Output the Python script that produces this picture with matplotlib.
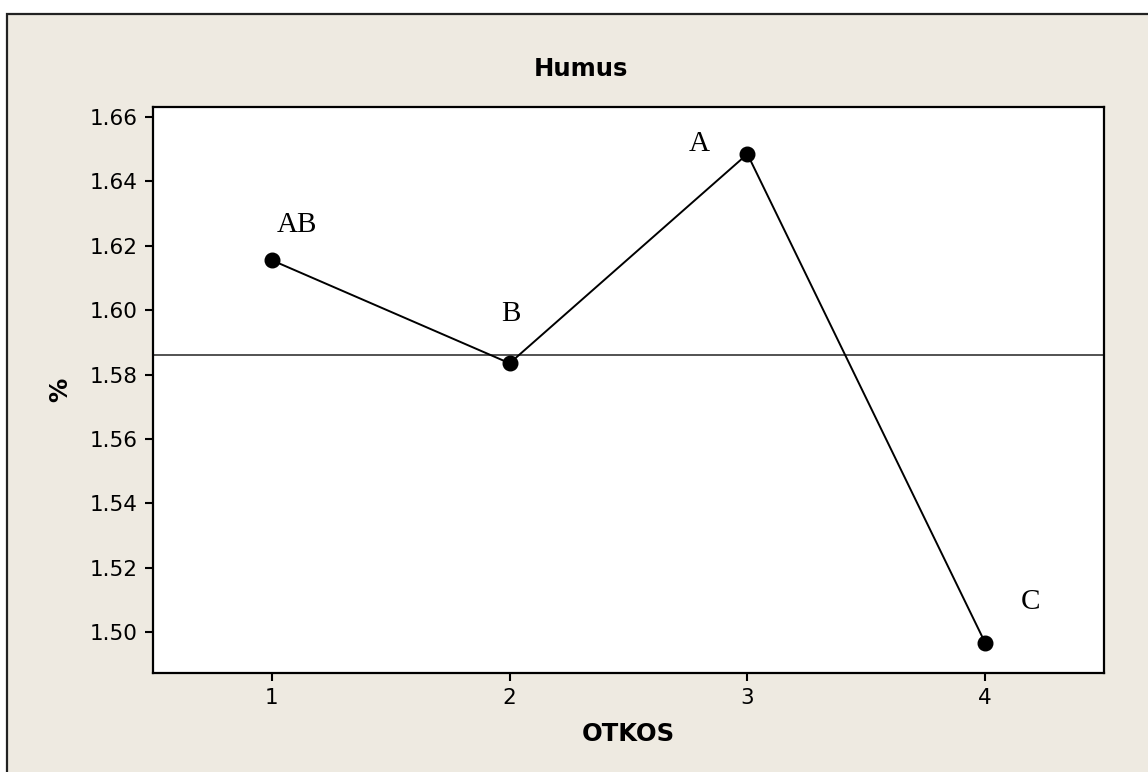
import numpy as np
import matplotlib.pyplot as plt
from matplotlib.patches import Rectangle

# datos: media de humus (%) por otkos
otkos = [1, 2, 3, 4]
humus = [1.6155, 1.5835, 1.6485, 1.4967]
letras = ['AB', 'B', 'A', 'C']
media = np.mean(humus)

W, H = 1148, 772
fig = plt.figure(figsize=(W / 100, H / 100), dpi=100, facecolor='white')

# fondo beige con borde (recortado a la derecha y abajo)
fondo = Rectangle((7 / W, -0.1), 1.2, 1.1 - 14 / H, transform=fig.transFigure,
                  facecolor='#EEEAE1', edgecolor='#222222', lw=1.6, zorder=-5)
fig.patches.append(fondo)

ax = fig.add_axes([153 / W, (H - 673) / H, (1104 - 153) / W, (673 - 107) / H])
ax.set_zorder(1)
ax.set_facecolor('white')

ax.plot(otkos, humus, color='black', lw=1.4, marker='o', markersize=10.5, zorder=3)
ax.axhline(media, color='#444444', lw=1.3, zorder=2)

# letras de comparación
desplaz = [(25, 35), (1, 49), (-48, 10), (45, 41)]
for xi, yi, txt, off in zip(otkos, humus, letras, desplaz):
    ax.annotate(txt, (xi, yi), xytext=off, textcoords='offset pixels',
                ha='center', va='center', fontsize=21, family='Liberation Serif')

ax.set_xlim(0.5, 4.5)
ax.set_ylim(1.4873, 1.6631)
ax.set_xticks(otkos)
ax.set_yticks(np.arange(1.50, 1.665, 0.02))
ax.yaxis.set_major_formatter(plt.FormatStrFormatter('%.2f'))
ax.tick_params(length=6, width=1.5, labelsize=15.5, pad=5, color='black')
for s in ax.spines.values():
    s.set_linewidth(1.6)

ax.set_xlabel('OTKOS', fontsize=17.5, fontweight='bold', va='center')
ax.xaxis.set_label_coords(0.5, -(734 - 673) / (673 - 107))
ax.set_ylabel('%', fontsize=17.5, fontweight='bold', va='center')
ax.yaxis.set_label_coords((60 - 153) / (1104 - 153), 0.5)

fig.text(581 / W, 1 - 69 / H, 'Humus', fontsize=17.5, fontweight='bold',
         ha='center', va='center')

fig.savefig('out.png', dpi=100, facecolor=fig.get_facecolor())
